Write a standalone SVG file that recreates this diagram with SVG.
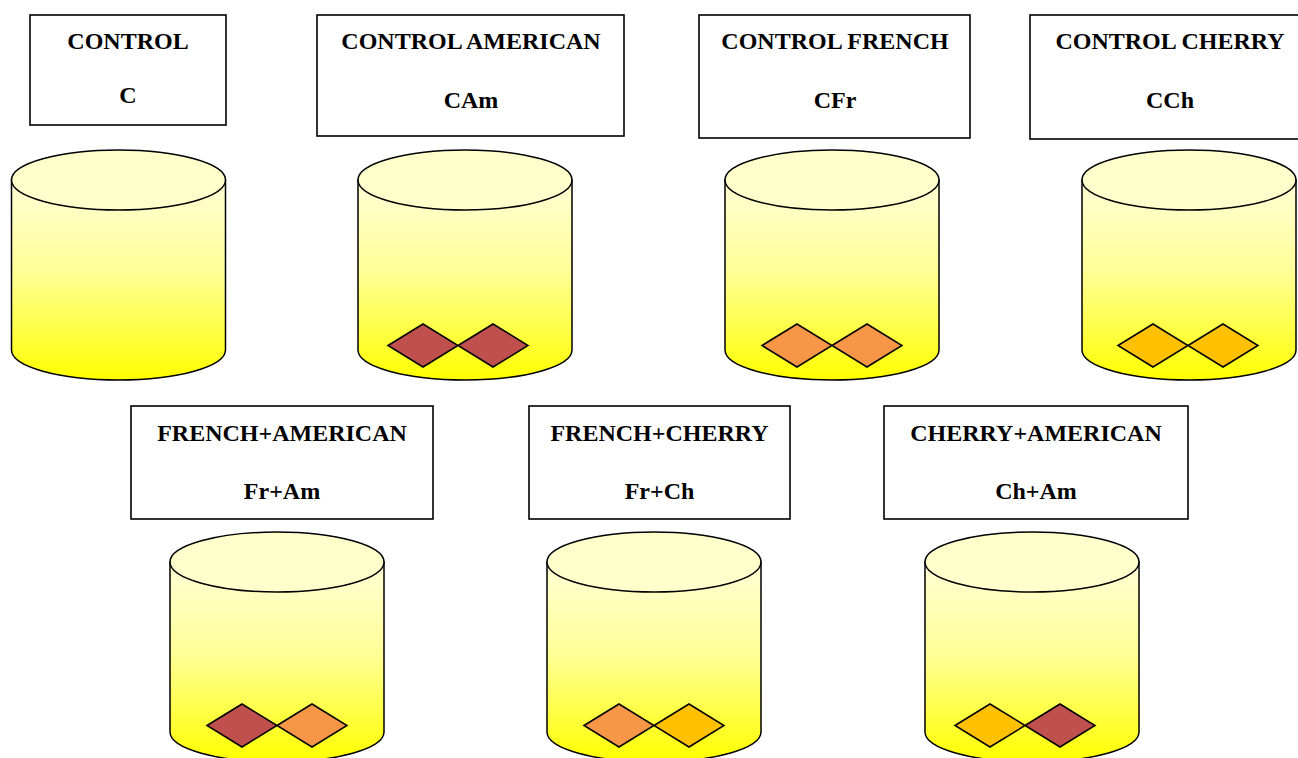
<svg xmlns="http://www.w3.org/2000/svg" width="1298" height="758" viewBox="0 0 1298 758">
<defs>
<linearGradient id="body" x1="0" y1="0" x2="0" y2="1">
<stop offset="0" stop-color="#FFFFD6"/>
<stop offset="0.45" stop-color="#FFFF99"/>
<stop offset="1" stop-color="#FFFF00"/>
</linearGradient>
<g id="cyl">
<path d="M-107,0 L-107,170 A107,30 0 0 0 107,170 L107,0 Z" fill="url(#body)" stroke="#000" stroke-width="1.5"/>
<ellipse cx="0" cy="0" rx="107" ry="30" fill="#FFFFCC" stroke="#000" stroke-width="1.5"/>
</g>
</defs>
<style>
.box{fill:#fff;stroke:#000;stroke-width:1.6}
.t{font-family:"Liberation Serif","Times New Roman",serif;font-weight:bold;font-size:24px;text-anchor:middle;fill:#000}
.d{stroke:#000;stroke-width:1.5;stroke-linejoin:miter}
.br{fill:#C0504D}.or{fill:#F79646}.am{fill:#FFC000}
</style>
<rect width="1298" height="758" fill="#fff"/>

<g id="label-c"><rect class="box" x="30" y="15" width="196" height="110"/><text class="t" x="128" y="49">CONTROL</text><text class="t" x="128" y="103">C</text></g>
<g id="label-cam"><rect class="box" x="317" y="15" width="307" height="121"/><text class="t" x="471" y="49">CONTROL AMERICAN</text><text class="t" x="471" y="108">CAm</text></g>
<g id="label-cfr"><rect class="box" x="699" y="15" width="271" height="123"/><text class="t" x="835" y="49">CONTROL FRENCH</text><text class="t" x="835" y="108">CFr</text></g>
<g id="label-cch"><rect class="box" x="1030" y="15" width="280" height="124"/><text class="t" x="1170" y="49">CONTROL CHERRY</text><text class="t" x="1170" y="108">CCh</text></g>

<g id="cyl-c"><use href="#cyl" x="118.5" y="180"/></g>
<g id="cyl-cam"><use href="#cyl" x="465" y="180"/><path class="d br" d="M388,345.5 L423,324 L458,345.5 L423,367 Z"/><path class="d br" d="M458,345.5 L493,324 L528,345.5 L493,367 Z"/></g>
<g id="cyl-cfr"><use href="#cyl" x="832" y="180"/><path class="d or" d="M762,345.5 L797,324 L832,345.5 L797,367 Z"/><path class="d or" d="M832,345.5 L867,324 L902,345.5 L867,367 Z"/></g>
<g id="cyl-cch"><use href="#cyl" x="1189" y="180"/><path class="d am" d="M1118,345.5 L1153,324 L1188,345.5 L1153,367 Z"/><path class="d am" d="M1188,345.5 L1223,324 L1258,345.5 L1223,367 Z"/></g>

<g id="label-fram"><rect class="box" x="131" y="406" width="302" height="113"/><text class="t" x="282" y="441">FRENCH+AMERICAN</text><text class="t" x="282" y="499">Fr+Am</text></g>
<g id="label-frch"><rect class="box" x="529" y="406" width="261" height="113"/><text class="t" x="659.5" y="441">FRENCH+CHERRY</text><text class="t" x="659.5" y="499">Fr+Ch</text></g>
<g id="label-cham"><rect class="box" x="884" y="406" width="304" height="113"/><text class="t" x="1036" y="441">CHERRY+AMERICAN</text><text class="t" x="1036" y="499">Ch+Am</text></g>

<g id="cyl-fram"><use href="#cyl" x="277" y="562"/><path class="d br" d="M207,725.5 L242,704 L277,725.5 L242,747 Z"/><path class="d or" d="M277,725.5 L312,704 L347,725.5 L312,747 Z"/></g>
<g id="cyl-frch"><use href="#cyl" x="654" y="562"/><path class="d or" d="M584,725.5 L619,704 L654,725.5 L619,747 Z"/><path class="d am" d="M654,725.5 L689,704 L724,725.5 L689,747 Z"/></g>
<g id="cyl-cham"><use href="#cyl" x="1032" y="562"/><path class="d am" d="M955,725.5 L990,704 L1025,725.5 L990,747 Z"/><path class="d br" d="M1025,725.5 L1060,704 L1095,725.5 L1060,747 Z"/></g>
<g id="connectors"/>
</svg>
